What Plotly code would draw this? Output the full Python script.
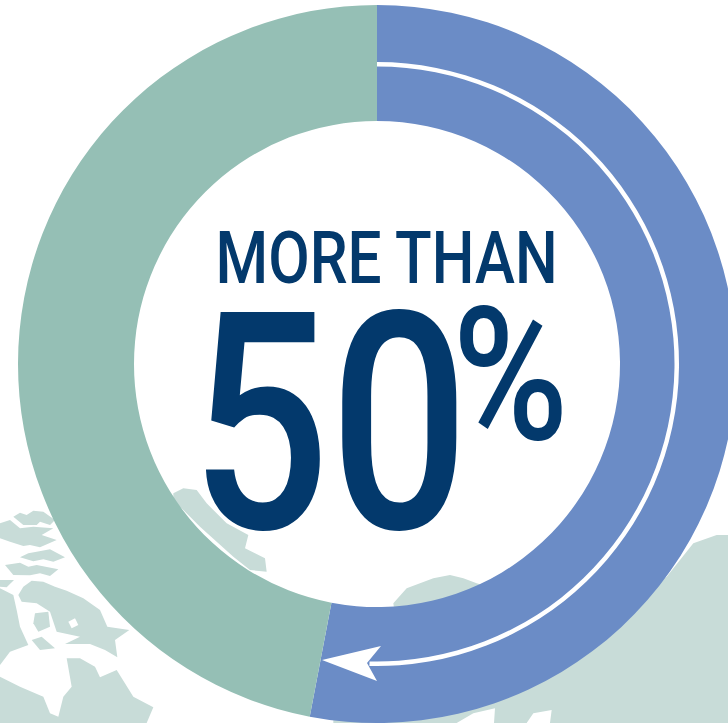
import plotly.graph_objects as go

# Ring shares (percent of the circle)
ring_labels = ["More than half", "Remainder"]
ring_values = [53.0, 47.0]
arrow_values = [50.4, 49.6]
headline = "MORE THAN"
big_number = "50"
big_suffix = "%"

BLUE = "#6b8cc6"
GREEN = "#95bfb5"
NAVY = "#03396c"
LAND = "#c8dcd8"

# Land outlines: (x, y) crop coordinates
left_land = [
    [(40,140),(60,128),(80,135),(100,122),(130,125),(165,150),(150,165),(120,155),(110,165),(70,165)],
    [(0,160),(30,150),(60,175),(100,170),(160,175),(125,195),(170,210),(120,232),(90,225),(70,228),(30,215),(0,205)],
    [(60,262),(85,250),(110,245),(150,238),(195,262),(160,275),(130,268),(100,274)],
    [(15,285),(60,278),(85,290),(110,285),(175,298),(150,318),(120,310),(90,316),(40,315)],
    [(0,330),(42,330),(20,352),(0,350)],
    [(55,375),(70,350),(95,332),(130,335),(165,350),(200,362),(250,385),(300,420),(322,470),(388,480),(345,510),(352,562),(315,540),(270,522),(195,522),(240,500),(170,485),(150,425),(110,400),(65,395)],
    [(105,430),(145,425),(150,470),(115,485),(100,460)],
    [(95,510),(125,500),(165,535),(120,540)],
    [(0,355),(40,375),(50,420),(60,470),(85,525),(30,545),(0,585)],
    [(0,620),(60,650),(130,680),(150,730),(175,740),(190,680),(215,650),(200,565),(240,565),(285,590),(300,622),(350,600),(400,680),(460,712),(440,759),(0,759)],
    [(520,70),(550,55),(590,60),(620,100),(680,160),(745,195),(735,235),(795,265),(800,305),(750,300),(700,260),(600,170),(520,90)],
]
lake = [(205,455),(225,445),(235,465),(215,475)]
right_land = [
    [(280,250),(320,205),(400,175),(450,165),(490,175),(530,190),(900,300),(1100,170),(1180,70),(1250,45),(1284,45),(1284,609),(750,609),(755,570),(700,580),(680,609),(582,609),(585,565),(520,580),(470,609),(100,609),(100,590),(300,400)],
]

W, H = 754, 723
CX, CY = 377, 364
R_OUT, R_IN = 359, 243
R_ARROW, ARROW_W = 302, 4.5


def pie_domain(r):
    return dict(x=[(CX - r) / W, (CX + r) / W], y=[(H - CY - r) / H, (H - CY + r) / H])


fig = go.Figure()
for poly in left_land + [lake]:
    colour = "white" if poly is lake else LAND
    fig.add_trace(go.Scatter(
        x=[p[0] / 3 for p in poly], y=[470 + p[1] / 3 for p in poly],
        mode="lines", fill="toself", fillcolor=colour, line=dict(width=0),
        hoverinfo="skip", showlegend=False))
for poly in right_land:
    fig.add_trace(go.Scatter(
        x=[300 + p[0] / 3 for p in poly], y=[520 + p[1] / 3 for p in poly],
        mode="lines", fill="toself", fillcolor=LAND, line=dict(width=0),
        hoverinfo="skip", showlegend=False))

fig.add_trace(go.Pie(
    labels=ring_labels, values=ring_values, sort=False, direction="clockwise", rotation=0,
    hole=R_IN / R_OUT, domain=pie_domain(R_OUT), textinfo="none", hoverinfo="skip",
    marker=dict(colors=[BLUE, GREEN], line=dict(width=0)), showlegend=False))
fig.add_trace(go.Pie(
    labels=["Arrow", "Gap"], values=arrow_values, sort=False, direction="clockwise", rotation=0,
    hole=(R_ARROW - ARROW_W) / R_ARROW, domain=pie_domain(R_ARROW), textinfo="none", hoverinfo="skip",
    marker=dict(colors=["white", "rgba(0,0,0,0)"], line=dict(width=0)), showlegend=False))

FONT = "Roboto"
fig.add_annotation(x=386.5, y=258, text=headline, xanchor="center", yanchor="middle",
                   font=dict(family=FONT, size=72, color=NAVY, weight=500),
                   xref="x", yref="y", showarrow=False)
fig.add_annotation(x=330, y=424, text=big_number, xanchor="center", yanchor="middle",
                   font=dict(family=FONT, size=304, color=NAVY, weight=500),
                   xref="x", yref="y", showarrow=False)
fig.add_annotation(x=510, y=375, text=big_suffix, xanchor="center", yanchor="middle",
                   font=dict(family=FONT, size=186, color=NAVY, weight=500),
                   xref="x", yref="y", showarrow=False)

fig.add_shape(type="path", xref="x", yref="y", layer="above", line_width=0, fillcolor="white",
              path="M322,660 L381,646 L367,663 L377,681 Z")

fig.update_layout(
    width=W, height=H, margin=dict(l=0, r=0, t=0, b=0),
    paper_bgcolor="white", plot_bgcolor="white", showlegend=False,
    xaxis=dict(range=[0, W], visible=False, domain=[0, 1], fixedrange=True),
    yaxis=dict(range=[H, 0], visible=False, domain=[0, 1], fixedrange=True),
)

# Condense the real text to the narrow proportions of the reference
squeeze = """
document.body.style.margin='0';document.body.style.overflow='hidden';
document.documentElement.style.overflow='hidden';
var widths={'MORE THAN':342,'50':278,'%':116};
document.querySelectorAll('.annotation-text').forEach(function(t){
  var w=widths[t.textContent]; if(!w) return;
  t.setAttribute('textLength',w);t.setAttribute('lengthAdjust','spacingAndGlyphs');
});
"""
fig.write_html("out.html", config=dict(displayModeBar=False), post_script=squeeze)
